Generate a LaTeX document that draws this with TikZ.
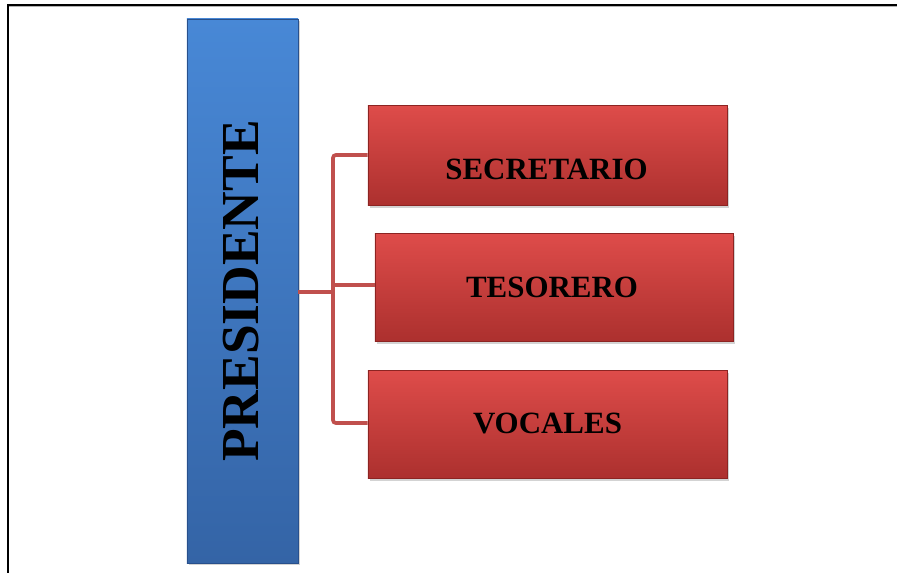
\documentclass[tikz,border=0pt]{standalone}
\usepackage{fontspec}
\setmainfont{Liberation Serif}
\usepackage{tikz}
\usetikzlibrary{positioning, calc, shadows}
\definecolor{presblue}{RGB}{72,136,214}
\definecolor{presbluedk}{RGB}{52,100,166}
\definecolor{presedge}{RGB}{40,80,140}
\definecolor{rolered}{RGB}{222,76,74}
\definecolor{roleredk}{RGB}{172,48,46}
\definecolor{roleedge}{RGB}{140,36,34}
\definecolor{linkred}{RGB}{192,80,77}
\tikzset{
  presbox/.style={rectangle, draw=presedge, line width=0.4pt,
    top color=presblue, bottom color=presbluedk,
    minimum width=2.775cm, minimum height=13.6cm,
    drop shadow={opacity=0.35, shadow xshift=0.06cm, shadow yshift=-0.06cm}},
  rolebox/.style={rectangle, draw=roleedge, line width=0.4pt,
    top color=rolered, bottom color=roleredk,
    minimum width=8.975cm, minimum height=2.7cm,
    drop shadow={opacity=0.35, shadow xshift=0.06cm, shadow yshift=-0.06cm}},
  rolelabel/.style={font=\fontsize{22}{26}\selectfont\bfseries},
  link/.style={draw=linkred, line width=2.6pt, rounded corners=2pt},
  frame/.style={draw=black, line width=1.2pt}
}
\begin{document}
\begin{tikzpicture}[x=0.025cm, y=-0.025cm]
  \useasboundingbox (0,0) rectangle (897,573);
  % page frame
  \draw[gray!60, line width=1.2pt] (8,6.5) -- (897,6.5);
  \draw[frame] (8,573) -- (8,5) -- (897,5);

  % boxes
  \node[presbox] (pres) at (242.5,291) {};
  \node[rotate=90, font=\fontsize{38}{44}\selectfont\bfseries] (prestext) at (241.5,291) {PRESIDENTE};

  \node[rolebox, minimum height=2.5cm] (sec) at (547.5,155.5) {};
  \node[rolebox, minimum width=8.95cm] (tes) at (554,287.5) {};
  \node[rolebox] (voc) at (547.5,424.5) {};

  \node[rolelabel] (sectext) at (546.5,169) {SECRETARIO};
  \node[rolelabel] (testext) at (552,287.5) {TESORERO};
  \node[rolelabel] (voctext) at (547.5,423) {VOCALES};

  % connectors
  \coordinate (jmid) at (333,292);
  \coordinate (jtop) at (333,155);
  \coordinate (jbot) at (333,423);
  \draw[link] (pres.east |- jmid) -- (jmid);
  \draw[link] (sec.west |- jtop) -- (jtop) -- (jbot) -- (voc.west |- jbot);
  \draw[link] (jtop |- 0,285) -- (tes.west |- 0,285);
\end{tikzpicture}
\end{document}
